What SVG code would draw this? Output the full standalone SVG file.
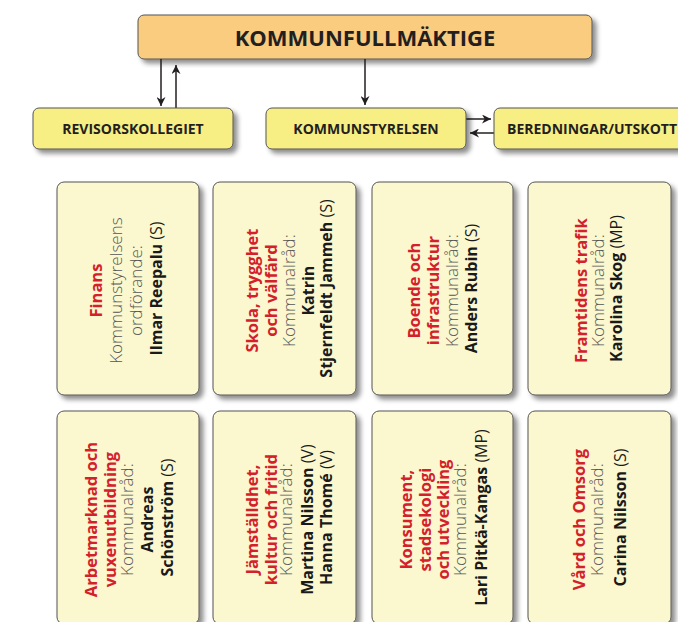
<svg xmlns="http://www.w3.org/2000/svg" width="678" height="622" viewBox="0 0 678 622">
<style>
.top{fill:#f9cc80;stroke:#555;stroke-width:1}
.hdr{fill:#f7ee84;stroke:#555;stroke-width:1}
.card{fill:#fbf7cf;stroke:#555;stroke-width:1}
.t1{font-family:"Open Sans","Liberation Sans",sans-serif;font-weight:700;font-size:22px;fill:#231f20;text-anchor:middle}
.t2{font-family:"Open Sans","Liberation Sans",sans-serif;font-weight:700;font-size:14px;fill:#231f20;text-anchor:middle}
.ct{font-family:"Open Sans","Liberation Sans",sans-serif;font-size:16px;text-anchor:middle}
.r{fill:#d4202a;font-weight:700;font-size:16.5px}
.g{fill:#555;font-weight:300;font-size:17px}
.b{fill:#1a1a1a;font-weight:700}
.p{font-weight:400}
.ln{stroke:#231f20;stroke-width:1.5;fill:none}
</style>
<defs>
<filter id="sh" x="-10%" y="-10%" width="130%" height="130%">
<feDropShadow dx="4" dy="4" stdDeviation="2.5" flood-color="#000" flood-opacity="0.45"/>
</filter>
<marker id="ah" viewBox="0 0 10 10" refX="10" refY="5" markerWidth="9" markerHeight="9" markerUnits="userSpaceOnUse" orient="auto">
<path d="M0,0 L10,5 L0,10 L3,5 z" fill="#231f20"/>
</marker>
</defs>

<g id="kommunfullmaktige">
<rect class="top" x="138" y="15" width="454" height="44" rx="6" filter="url(#sh)"/>
<text class="t1" x="365" y="46">KOMMUNFULLMÄKTIGE</text>
</g>

<g id="connectors">
<line class="ln" x1="161" y1="59" x2="161" y2="106" marker-end="url(#ah)"/>
<line class="ln" x1="176" y1="108" x2="176" y2="65" marker-end="url(#ah)"/>
<line class="ln" x1="365" y1="59" x2="365" y2="105" marker-end="url(#ah)"/>
<line class="ln" x1="466" y1="119" x2="491" y2="119" marker-end="url(#ah)"/>
<line class="ln" x1="494" y1="133" x2="470" y2="133" marker-end="url(#ah)"/>
</g>

<g id="revisorskollegiet">
<rect class="hdr" x="33" y="108" width="200" height="41" rx="6" filter="url(#sh)"/>
<text class="t2" x="133" y="134">REVISORSKOLLEGIET</text>
</g>
<g id="kommunstyrelsen">
<rect class="hdr" x="266" y="108" width="200" height="41" rx="6" filter="url(#sh)"/>
<text class="t2" x="366" y="134">KOMMUNSTYRELSEN</text>
</g>
<g id="beredningar">
<rect class="hdr" x="494" y="108" width="200" height="41" rx="6" filter="url(#sh)"/>
<text class="t2" x="592" y="134">BEREDNINGAR/UTSKOTT</text>
</g>

<g id="finans">
<rect class="card" x="57" y="182" width="142" height="213" rx="7" filter="url(#sh)"/>
<text class="ct" transform="translate(102,288.5) rotate(-90)">
<tspan class="r" x="0" y="0">Finans</tspan>
<tspan class="g" x="0" y="20">Kommunstyrelsens</tspan>
<tspan class="g" x="0" y="40">ordförande:</tspan>
<tspan class="b" x="0" y="60">Ilmar Reepalu <tspan class="p">(S)</tspan></tspan>
</text>
</g>
<g id="skola">
<rect class="card" x="213" y="182" width="143" height="213" rx="7" filter="url(#sh)"/>
<text class="ct" transform="translate(258,288.5) rotate(-90)">
<tspan class="r" x="0" y="0">Skola, trygghet</tspan>
<tspan class="r" x="0" y="18.5">och välfärd</tspan>
<tspan class="g" x="0" y="37">Kommunalråd:</tspan>
<tspan class="b" x="0" y="55.5">Katrin</tspan>
<tspan class="b" x="0" y="74">Stjernfeldt Jammeh <tspan class="p">(S)</tspan></tspan>
</text>
</g>
<g id="boende">
<rect class="card" x="372" y="182" width="141" height="213" rx="7" filter="url(#sh)"/>
<text class="ct" transform="translate(420,288.5) rotate(-90)">
<tspan class="r" x="0" y="0">Boende och</tspan>
<tspan class="r" x="0" y="19">infrastruktur</tspan>
<tspan class="g" x="0" y="38">Kommunalråd:</tspan>
<tspan class="b" x="0" y="57">Anders Rubin <tspan class="p">(S)</tspan></tspan>
</text>
</g>
<g id="trafik">
<rect class="card" x="528" y="182" width="143" height="213" rx="7" filter="url(#sh)"/>
<text class="ct" transform="translate(586.5,288.5) rotate(-90)">
<tspan class="r" x="0" y="0">Framtidens trafik</tspan>
<tspan class="g" x="0" y="17">Kommunalråd:</tspan>
<tspan class="b" x="0" y="35">Karolina Skog <tspan class="p">(MP)</tspan></tspan>
</text>
</g>

<g id="arbetsmarknad">
<rect class="card" x="57" y="411" width="142" height="213" rx="7" filter="url(#sh)"/>
<text class="ct" transform="translate(97,517.5) rotate(-90)">
<tspan class="r" x="0" y="0">Arbetmarknad och</tspan>
<tspan class="r" x="0" y="18.5">vuxenutbildning</tspan>
<tspan class="g" x="0" y="36">Kommunalråd:</tspan>
<tspan class="b" x="0" y="56">Andreas</tspan>
<tspan class="b" x="0" y="76">Schönström <tspan class="p">(S)</tspan></tspan>
</text>
</g>
<g id="jamstalldhet">
<rect class="card" x="213" y="411" width="143" height="213" rx="7" filter="url(#sh)"/>
<text class="ct" transform="translate(258,517.5) rotate(-90)">
<tspan class="r" x="0" y="0">Jämställdhet,</tspan>
<tspan class="r" x="0" y="18.5">kultur och fritid</tspan>
<tspan class="g" x="0" y="34">Kommunalråd:</tspan>
<tspan class="b" x="0" y="55">Martina Nilsson <tspan class="p">(V)</tspan></tspan>
<tspan class="b" x="0" y="74">Hanna Thomé <tspan class="p">(V)</tspan></tspan>
</text>
</g>
<g id="konsument">
<rect class="card" x="372" y="411" width="141" height="213" rx="7" filter="url(#sh)"/>
<text class="ct" transform="translate(412,517.5) rotate(-90)">
<tspan class="r" x="0" y="0">Konsument,</tspan>
<tspan class="r" x="0" y="18.5">stadsekologi</tspan>
<tspan class="r" x="0" y="37">och utveckling</tspan>
<tspan class="g" x="0" y="54">Kommunalråd:</tspan>
<tspan class="b" x="0" y="75">Lari Pitkä-Kangas <tspan class="p">(MP)</tspan></tspan>
</text>
</g>
<g id="vard">
<rect class="card" x="528" y="411" width="143" height="213" rx="7" filter="url(#sh)"/>
<text class="ct" transform="translate(585,517.5) rotate(-90)">
<tspan class="r" x="0" y="0">Vård och Omsorg</tspan>
<tspan class="g" x="0" y="18">Kommunalråd:</tspan>
<tspan class="b" x="0" y="41">Carina Nilsson <tspan class="p">(S)</tspan></tspan>
</text>
</g>
</svg>
